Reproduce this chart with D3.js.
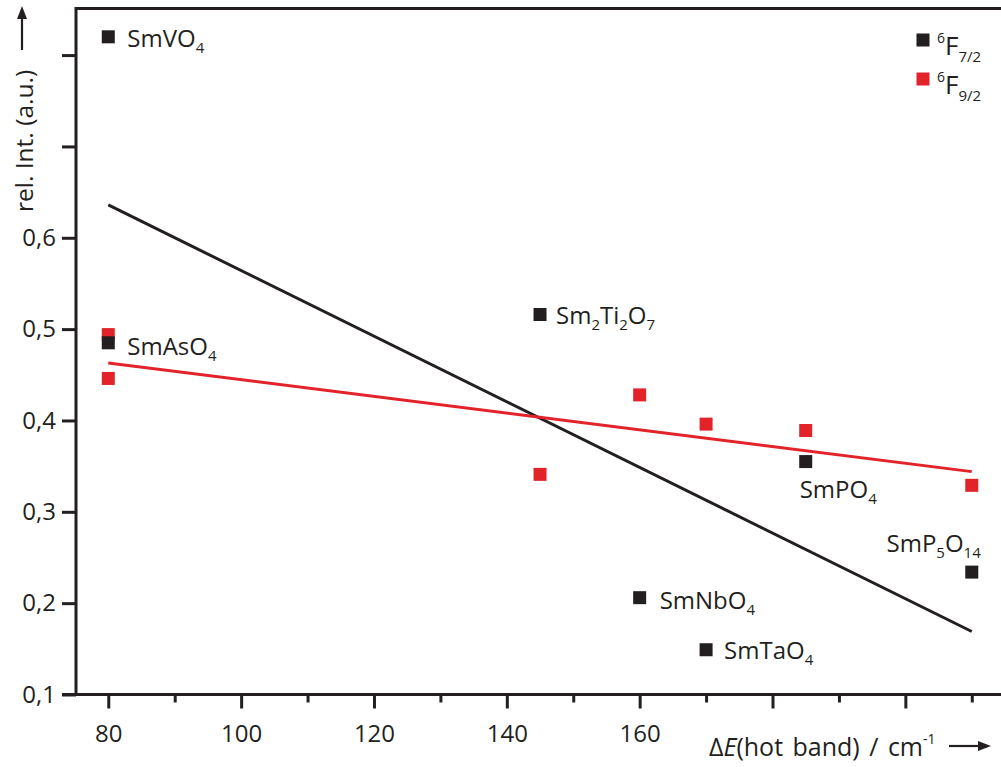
<!DOCTYPE html>
<html>
<head>
<meta charset="utf-8">
<script src="https://cdn.jsdelivr.net/npm/d3@7/dist/d3.min.js"></script>
<style>
  html, body { margin: 0; padding: 0; background: #fff; }
  svg { display: block; }
  text { font-family: "Open Sans", "Noto Sans", sans-serif; fill: #231f20; }
</style>
</head>
<body>
<svg id="chart" width="1001" height="767"></svg>
<script>
// Hot-band energy (cm^-1) and compound names
const compounds = ["SmVO4", "SmAsO4", "Sm2Ti2O7", "SmNbO4", "SmTaO4", "SmPO4", "SmP5O14"];
const deltaE    = [80, 80, 145, 160, 170, 185, 210];

// Relative intensity of the 6F7/2 band (black squares)
const intF72 = [0.820, 0.485, 0.516, 0.206, 0.149, 0.355, 0.234];

// Relative intensity of the 6F9/2 band (red squares)
const deltaE_F92 = [80, 80, 145, 160, 170, 185, 210];
const intF92     = [0.494, 0.446, 0.341, 0.428, 0.396, 0.389, 0.329];

// Linear fits: value at the first and last hot-band energy
const fitX   = [80, 210];
const fitF72 = [0.636, 0.169];
const fitF92 = [0.463, 0.344];

// Axis ticks
const yTicks      = [0.1, 0.2, 0.3, 0.4, 0.5, 0.6, 0.7, 0.8];
const yTickLabels = ["0,1", "0,2", "0,3", "0,4", "0,5", "0,6", "", ""];
const xMajor      = [80, 100, 120, 140, 160, 180, 200];
const xMajorLabels = ["80", "100", "120", "140", "160", "", ""];
const xMinor      = [90, 110, 130, 150, 170, 190, 210];

// ---- layout ----
const ink = "#231f20";
const red = "#e2232a";
const svg = d3.select("#chart");

const x = d3.scaleLinear().domain([75.14, 214.4]).range([76, 1001]);
const y = d3.scaleLinear().domain([0.1, 0.851]).range([694.5, 8.5]);

// label placement relative to each black point
const labelOffset = {
  "SmVO4":   { dx: 19,  dy: 10, anchor: "start" },
  "SmAsO4":  { dx: 19,  dy: 12, anchor: "start" },
  "Sm2Ti2O7":{ dx: 16,  dy: 9,  anchor: "start" },
  "SmNbO4":  { dx: 20,  dy: 11, anchor: "start" },
  "SmTaO4":  { dx: 18,  dy: 9,  anchor: "start" },
  "SmPO4":   { dx: -6,  dy: 36, anchor: "start" },
  "SmP5O14": { dx: 9,   dy: -20, anchor: "end" }
};

// top frame line
svg.append("line")
  .attr("x1", x.range()[0]).attr("x2", x.range()[1])
  .attr("y1", y.range()[1]).attr("y2", y.range()[1])
  .attr("stroke", ink).attr("stroke-width", 3);

// y axis
const yAxis = d3.axisLeft(y)
  .tickValues(yTicks)
  .tickFormat((d, i) => yTickLabels[i])
  .tickSize(14).tickSizeOuter(0).tickPadding(6);
const gy = svg.append("g").attr("transform", `translate(${x.range()[0]},0)`).call(yAxis);

// x axis: minor then major ticks
const gxMinor = svg.append("g").attr("transform", `translate(0,${y.range()[0]})`)
  .call(d3.axisBottom(x).tickValues(xMinor).tickFormat("").tickSize(8).tickSizeOuter(0));
const gx = svg.append("g").attr("transform", `translate(0,${y.range()[0]})`)
  .call(d3.axisBottom(x).tickValues(xMajor)
    .tickFormat((d, i) => xMajorLabels[i]).tickSize(14).tickSizeOuter(0).tickPadding(16));

[gy, gx, gxMinor].forEach(g => {
  g.selectAll("path.domain").attr("stroke", ink).attr("stroke-width", 3);
  g.selectAll(".tick line").attr("stroke", ink).attr("stroke-width", 3);
  g.selectAll(".tick text").attr("fill", ink)
    .style("font-family", '"Open Sans", sans-serif').style("font-size", "24px");
});
gy.select("path.domain").attr("d", `M0,${y.range()[0] + 1.5}V${y.range()[1] - 1.5}`);
gx.select("path.domain").attr("d", `M${x.range()[0] - 14},0H${x.range()[1]}`);
gxMinor.select("path.domain").remove();

// fit lines
const line = d3.line().x(d => x(d[0])).y(d => y(d[1]));
svg.append("path")
  .datum(fitX.map((v, i) => [v, fitF72[i]]))
  .attr("d", line).attr("fill", "none").attr("stroke", ink).attr("stroke-width", 3);
svg.append("path")
  .datum(fitX.map((v, i) => [v, fitF92[i]]))
  .attr("d", line).attr("fill", "none").attr("stroke", red).attr("stroke-width", 3);

// markers
const sq = 13;
svg.append("g").selectAll("rect")
  .data(deltaE_F92.map((v, i) => [v, intF92[i]]))
  .join("rect")
  .attr("x", d => x(d[0]) - sq / 2).attr("y", d => y(d[1]) - sq / 2)
  .attr("width", sq).attr("height", sq).attr("fill", red);
svg.append("g").selectAll("rect")
  .data(deltaE.map((v, i) => [v, intF72[i]]))
  .join("rect")
  .attr("x", d => x(d[0]) - sq / 2).attr("y", d => y(d[1]) - sq / 2)
  .attr("width", sq).attr("height", sq).attr("fill", ink);

// chemical formula with subscripted digits
function formula(sel, name, size, subSize) {
  const parts = name.split(/(\d+)/).filter(s => s.length);
  let shifted = false;
  parts.forEach(p => {
    const isSub = /^\d+$/.test(p);
    const t = sel.append("tspan").text(p);
    if (isSub) {
      t.attr("font-size", subSize).attr("dy", shifted ? 0 : 6);
      shifted = true;
    } else {
      t.attr("font-size", size).attr("dy", shifted ? -6 : 0);
      shifted = false;
    }
  });
}

compounds.forEach((name, i) => {
  const o = labelOffset[name];
  const t = svg.append("text")
    .attr("x", x(deltaE[i]) + o.dx)
    .attr("y", y(intF72[i]) + o.dy)
    .attr("text-anchor", o.anchor)
    .attr("font-size", 24);
  formula(t, name, 24, 15);
});

// legend
const legend = [
  { color: ink, sub: "7/2", cy: 40 },
  { color: red, sub: "9/2", cy: 79 }
];
legend.forEach(l => {
  svg.append("rect").attr("x", 923 - sq / 2).attr("y", l.cy - sq / 2)
    .attr("width", sq).attr("height", sq).attr("fill", l.color);
  const t = svg.append("text").attr("x", 937).attr("y", l.cy + 15).attr("font-size", 26);
  t.append("tspan").text("6").attr("font-size", 14).attr("dy", -12);
  t.append("tspan").text("F").attr("font-size", 26).attr("dy", 12);
  t.append("tspan").text(l.sub).attr("font-size", 15).attr("dy", 7);
});

// y axis title with arrow
svg.append("text")
  .attr("transform", "translate(33,212) rotate(-90)")
  .attr("text-anchor", "start")
  .attr("font-size", 24.5)
  .text("rel. Int. (a.u.)");
svg.append("line").attr("x1", 22).attr("x2", 22).attr("y1", 50).attr("y2", 16)
  .attr("stroke", ink).attr("stroke-width", 2.2);
svg.append("path").attr("d", "M22,6 L27,19 L17,19 Z").attr("fill", ink);

// x axis title with arrow
const xt = svg.append("text").attr("x", 709).attr("y", 756)
  .attr("font-size", 25).attr("word-spacing", 3);
xt.append("tspan").text("\u0394");
xt.append("tspan").text("E").attr("font-style", "italic");
xt.append("tspan").text("(hot band) / cm");
xt.append("tspan").text("-1").attr("font-size", 14).attr("dy", -12);
svg.append("line").attr("x1", 949).attr("x2", 980).attr("y1", 746).attr("y2", 746)
  .attr("stroke", ink).attr("stroke-width", 2.2);
svg.append("path").attr("d", "M991,746 L978,741 L978,751 Z").attr("fill", ink);
</script>
</body>
</html>
